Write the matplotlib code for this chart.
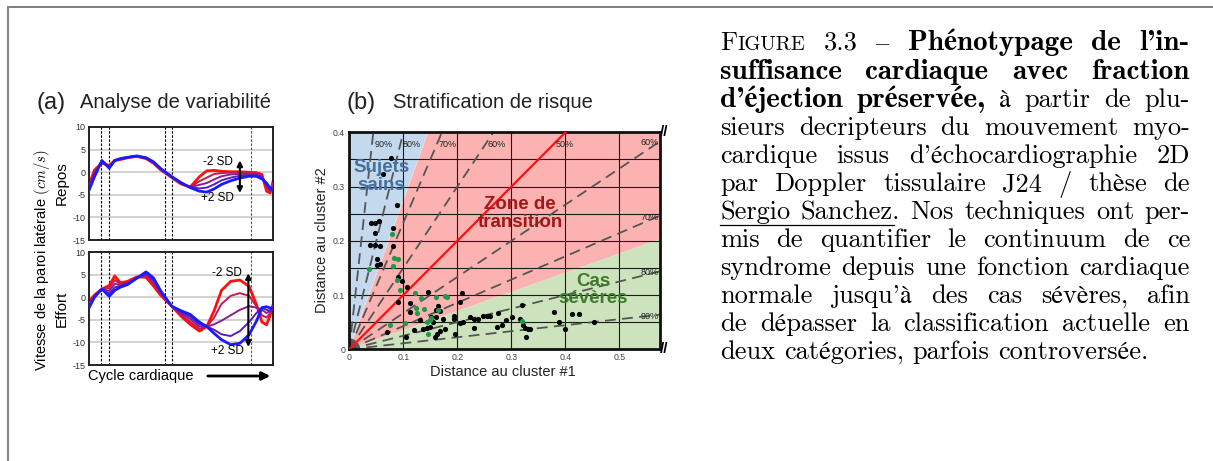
import numpy as np
import matplotlib.pyplot as plt
from matplotlib.lines import Line2D
from matplotlib.patches import FancyArrowPatch

plt.rcParams['font.family'] = ['Liberation Sans', 'DejaVu Sans']
plt.rcParams['mathtext.fontset'] = 'cm'

W, H = 1213, 461

# ---- (a) vitesse de la paroi laterale, 5 courbes de -2 SD (rouge) a +2 SD (bleu)
cycle = [0, 3, 7, 11, 14, 17, 21, 26, 31, 35, 39, 45, 50, 55, 60, 64, 68, 72, 77, 82, 87, 91, 94, 96.5, 98.5, 100]

repos = [
    [-2.8, 0.5, 2.0, 1.5, 2.6, 2.8, 3.2, 3.5, 3.0, 2.0, 0.5, -1.2, -2.6, -3.3, -1.0, 0.3, 0.4, 0.2, 0.1, 0.1, 0.0, -0.1, -0.5, -4.2, -4.6, -2.0],
    [-3.1, 0.1, 2.1, 1.3, 2.6, 2.9, 3.2, 3.5, 3.1, 2.1, 0.6, -1.1, -2.5, -3.3, -2.0, -1.2, -0.4, -0.2, -0.1, -0.1, -0.2, -0.3, -0.8, -3.5, -4.3, -2.5],
    [-3.4, -0.3, 2.3, 1.2, 2.6, 2.9, 3.3, 3.6, 3.1, 2.2, 0.7, -1.0, -2.4, -3.3, -2.8, -2.4, -1.6, -0.9, -0.5, -0.4, -0.4, -0.5, -1.0, -3.0, -4.0, -3.0],
    [-3.7, -0.6, 2.5, 1.0, 2.6, 3.0, 3.3, 3.6, 3.2, 2.3, 0.8, -1.0, -2.4, -3.3, -3.6, -3.4, -2.7, -1.8, -1.2, -0.8, -0.7, -0.7, -1.2, -2.7, -3.8, -3.5],
    [-4.0, -1.0, 2.6, 0.9, 2.6, 3.0, 3.3, 3.6, 3.2, 2.3, 0.8, -1.0, -2.3, -3.4, -4.2, -4.4, -3.7, -2.7, -1.9, -1.3, -0.9, -0.9, -1.5, -2.4, -3.6, -3.9],
]
effort = [
    [-1.0, 0.5, 1.8, 2.6, 4.7, 3.2, 3.5, 4.5, 4.4, 2.5, 0.4, -2.0, -4.2, -6.0, -7.5, -6.5, -3.0, 1.5, 3.5, 3.8, 2.4, -1.6, -5.5, -6.1, -4.0, -1.7],
    [-1.4, 0.4, 1.8, 2.0, 3.8, 2.9, 3.3, 4.4, 4.7, 3.0, 0.7, -2.0, -3.9, -5.4, -7.0, -6.5, -4.5, -1.5, 0.3, 0.9, 0.3, -2.0, -4.0, -4.5, -3.5, -2.0],
    [-1.7, 0.2, 1.8, 1.4, 3.0, 2.6, 3.1, 4.3, 5.0, 3.5, 1.0, -2.0, -3.6, -4.8, -6.5, -6.5, -6.0, -5.2, -4.0, -2.8, -2.0, -2.3, -2.8, -3.5, -3.0, -2.2],
    [-2.0, 0.1, 1.8, 0.8, 2.2, 2.4, 3.0, 4.2, 5.3, 3.9, 1.2, -2.0, -3.3, -4.3, -6.0, -6.5, -7.2, -8.2, -8.6, -7.5, -5.5, -3.5, -2.3, -2.8, -3.0, -2.3],
    [-2.4, 0.0, 1.8, 0.2, 1.5, 2.2, 2.8, 4.2, 5.6, 4.3, 1.4, -2.0, -3.0, -3.8, -5.5, -6.5, -8.0, -9.4, -10.5, -10.2, -8.3, -5.3, -2.3, -2.1, -2.4, -2.4],
]
couleurs = ['#ff1010', '#c81850', '#8c1f8c', '#5a1cc0', '#1a1aff']
evenements = [6.5, 10.9, 41.3, 45.1, 88]

# ---- (b) stratification de risque
noirs_x = [0.0765, 0.063, 0.089, 0.040, 0.048, 0.055, 0.048, 0.081, 0.038, 0.048, 0.056, 0.081,
           0.051, 0.057, 0.052, 0.091, 0.097, 0.106, 0.091, 0.112, 0.112, 0.146, 0.131, 0.119,
           0.143, 0.137, 0.149, 0.154, 0.151, 0.160, 0.160, 0.167, 0.164, 0.174, 0.159, 0.163,
           0.168, 0.177, 0.105, 0.070, 0.193, 0.194, 0.196, 0.205, 0.208, 0.205, 0.210, 0.223,
           0.230, 0.230, 0.239, 0.248, 0.254, 0.260, 0.273, 0.276, 0.282, 0.290, 0.302, 0.319,
           0.316, 0.321, 0.325, 0.330, 0.335, 0.327, 0.378, 0.389, 0.399, 0.412, 0.426, 0.452]
noirs_y = [0.353, 0.324, 0.266, 0.232, 0.232, 0.237, 0.215, 0.224, 0.192, 0.192, 0.190, 0.190,
           0.167, 0.158, 0.155, 0.134, 0.125, 0.114, 0.088, 0.086, 0.069, 0.106, 0.054, 0.036,
           0.039, 0.037, 0.042, 0.051, 0.059, 0.060, 0.072, 0.071, 0.079, 0.056, 0.023, 0.028,
           0.033, 0.037, 0.023, 0.031, 0.061, 0.055, 0.029, 0.087, 0.103, 0.049, 0.050, 0.060,
           0.055, 0.039, 0.055, 0.061, 0.061, 0.061, 0.042, 0.067, 0.045, 0.054, 0.059, 0.082,
           0.055, 0.045, 0.040, 0.037, 0.038, 0.022, 0.069, 0.051, 0.037, 0.065, 0.065, 0.051]
verts_x = [0.079, 0.037, 0.080, 0.083, 0.091, 0.089, 0.094, 0.122, 0.132, 0.160, 0.177, 0.180,
           0.123, 0.138, 0.126, 0.165, 0.152, 0.149, 0.143, 0.103, 0.075, 0.146, 0.319]
verts_y = [0.213, 0.148, 0.154, 0.168, 0.167, 0.128, 0.109, 0.103, 0.094, 0.096, 0.098, 0.096,
           0.077, 0.074, 0.066, 0.072, 0.057, 0.054, 0.051, 0.049, 0.045, 0.028, 0.053]
pourcentages = [90, 80, 70, 60]
pente_sains = 2.74
pente_severes = 0.353

legende = [
    "^Figure 3.3 – *Phénotypage *de *l'in-",
    "*suffisance *cardiaque *avec *fraction",
    "*d'éjection *préservée, à partir de plu-",
    "sieurs decripteurs du mouvement myo-",
    "cardique issus d'échocardiographie 2D",
    "par Doppler tissulaire J24 / thèse de",
    "_Sergio _Sanchez. Nos techniques ont per-",
    "mis de quantifier le continuum de ce",
    "syndrome depuis une fonction cardiaque",
    "normale jusqu'à des cas sévères, afin",
    "de dépasser la classification actuelle en",
    "deux catégories, parfois controversée.",
]


def fx(px):
    return px / W


def fy(py):
    return 1 - py / H


fig = plt.figure(figsize=(W / 100, H / 100), dpi=100)

# cadre de page
fig.add_artist(Line2D([fx(8), 1], [fy(7), fy(7)], color='#666666', lw=1.2))
fig.add_artist(Line2D([fx(8), fx(8)], [fy(7), 0], color='#888888', lw=1.5))

# ---------- panneau (a)
ax_r = fig.add_axes([fx(89), fy(240), fx(184), 113 / H])
ax_e = fig.add_axes([fx(89), fy(365), fx(184), 113 / H])
for ax, courbes, fleche in [(ax_r, repos, (82, 2.6, -4.6, 70, 2.3, -5.6)),
                            (ax_e, effort, (86.6, 5.3, -11.0, 75, 5.3, -11.9))]:
    ax.set_xlim(0, 100)
    ax.set_ylim(-15, 10)
    ax.set_yticks([10, 5, 0, -5, -10, -15])
    ax.set_yticklabels(['10', '5', '0', '-5', '-10', '-15'])
    ax.set_xticks([])
    ax.tick_params(axis='y', length=0, pad=2.5, labelsize=6.5, labelcolor='#333333')
    for v in [5, 0, -5, -10]:
        ax.axhline(v, color='#cfcfcf', lw=1.3, zorder=0)
    for i, ev in enumerate(evenements):
        c = 'black' if i < 4 else '#555555'
        ax.axvline(ev, color=c, lw=0.8, ls=(0, (2.2, 1.5)), zorder=1)
    for k, (y, c) in enumerate(zip(courbes, couleurs)):
        lw = 2.0 if k in (0, 4) else 1.4
        ax.plot(cycle, y, color=c, lw=lw, zorder=2 + k, solid_joinstyle='round')
    xa, y1, y2, xt, yt1, yt2 = fleche
    ax.annotate('', xy=(xa, y2), xytext=(xa, y1),
                arrowprops=dict(arrowstyle='<|-|>', color='black', lw=1.5, mutation_scale=8,
                                shrinkA=0, shrinkB=0), zorder=10)
    ax.text(xt, yt1, '-2 SD', fontsize=8.5, ha='center', va='center', zorder=10)
    ax.text(xt, yt2, '+2 SD', fontsize=8.5, ha='center', va='center', zorder=10)
    for s in ax.spines.values():
        s.set_linewidth(1.4)
        s.set_color('#222222')

fig.text(fx(62), fy(183.5), 'Repos', rotation=90, fontsize=11, ha='center', va='center')
fig.text(fx(62), fy(308.5), 'Effort', rotation=90, fontsize=11, ha='center', va='center')
fig.text(fx(42), fy(260), r'Vitesse de la paroi latérale $(cm/s)$', rotation=90,
         fontsize=10.5, ha='center', va='center')
fig.text(fx(88), fy(376), 'Cycle cardiaque', fontsize=10.5, ha='left', va='center')
fig.add_artist(FancyArrowPatch((fx(205), fy(376)), (fx(273), fy(376)), transform=fig.transFigure,
                               arrowstyle='-|>', mutation_scale=12, lw=2, color='black'))
fig.text(fx(37), fy(103), '(a)', fontsize=17, ha='left', va='center', color='#222222')
fig.text(fx(80), fy(103), 'Analyse de variabilité', fontsize=14.5, ha='left', va='center',
         color='#222222')

# ---------- panneau (b)
xmax, ymax = 0.575, 0.4
ax_b = fig.add_axes([fx(349.3), fy(349.3), fx(310.7), 217 / H])
ax_b.set_xlim(0, xmax)
ax_b.set_ylim(0, ymax)
ax_b.fill([0, 0, ymax / pente_sains], [0, ymax, ymax], color='#c4d9ee', lw=0, zorder=0)
ax_b.fill([0, ymax / pente_sains, xmax, xmax], [0, ymax, ymax, xmax * pente_severes],
          color='#fdb2b2', lw=0, zorder=0)
ax_b.fill([0, xmax, xmax], [0, xmax * pente_severes, 0], color='#cce3bd', lw=0, zorder=0)
ax_b.set_xticks(np.arange(0, 0.51, 0.1))
ax_b.set_xticklabels(['0', '0.1', '0.2', '0.3', '0.4', '0.5'])
ax_b.set_yticks(np.arange(0, 0.41, 0.1))
ax_b.set_yticklabels(['0', '0.1', '0.2', '0.3', '0.4'])
ax_b.set_yticks(np.arange(0.05, 0.4, 0.1), minor=True)
ax_b.tick_params(which='both', length=0, labelsize=6.3, labelcolor='#444444', pad=3)
ax_b.set_axisbelow(True)
ax_b.grid(True, which='major', color='#1a1a1a', lw=0.8)
ax_b.grid(True, which='minor', axis='y', color='#1a1a1a', lw=0.8)
for p in pourcentages:
    pente = p / (100 - p)
    xe = min(xmax, ymax / pente)
    ax_b.plot([0, xe], [0, xe * pente], color='#555555', lw=1.3, ls=(0, (6, 3.5)), zorder=2)
    ax_b.text(0.378 / pente + 0.004, 0.378, f'{p}%', fontsize=6.5, ha='left', va='center',
              color='#222222', zorder=5)
    pente2 = (100 - p) / p
    ax_b.plot([0, xmax], [0, xmax * pente2], color='#555555', lw=1.3, ls=(0, (6, 3.5)), zorder=2)
    ax_b.text(0.572, xmax * pente2 - 0.003, f'{p}%', fontsize=6.5, ha='right', va='center',
              color='#222222', zorder=5)
ax_b.plot([0, ymax], [0, ymax], color='#ff1010', lw=1.6, zorder=3)
ax_b.text(0.378 + 0.004, 0.378, '50%', fontsize=6.5, ha='left', va='center', color='#222222', zorder=5)
ax_b.scatter(noirs_x, noirs_y, s=14, color='black', lw=0, zorder=4)
ax_b.scatter(verts_x, verts_y, s=14, color='#1f9a4a', lw=0, zorder=4)
ax_b.text(0.060, 0.318, 'Sujets\nsains', fontsize=13.5, fontweight='bold', color='#46709e',
          ha='center', va='center', linespacing=1.05, zorder=5)
ax_b.text(0.316, 0.250, 'Zone de\ntransition', fontsize=13.5, fontweight='bold', color='#a01818',
          ha='center', va='center', linespacing=1.05, zorder=5)
ax_b.text(0.452, 0.109, 'Cas\nsévères', fontsize=13.5, fontweight='bold', color='#3f7a2c',
          ha='center', va='center', linespacing=1.05, zorder=5)
for s in ax_b.spines.values():
    s.set_linewidth(2)
    s.set_color('#111111')
ax_b.text(1.0, 1.0, '//', transform=ax_b.transAxes, fontsize=11, fontweight='bold',
          ha='left', va='center', clip_on=False)
ax_b.text(1.0, 0.0, '//', transform=ax_b.transAxes, fontsize=11, fontweight='bold',
          ha='left', va='center', clip_on=False)
fig.text(fx(503), fy(372), 'Distance au cluster #1', fontsize=10.5, ha='center', va='center',
         color='#222222')
fig.text(fx(322), fy(240), 'Distance au cluster #2', fontsize=10.5, rotation=90, ha='center',
         va='center', color='#222222')
fig.text(fx(346), fy(103), '(b)', fontsize=17, ha='left', va='center', color='#222222')
fig.text(fx(393), fy(103), 'Stratification de risque', fontsize=14.5, ha='left', va='center',
         color='#222222')

# ---------- legende justifiee
fs = 19
serif = ['cmr10', 'STIXGeneral']
serif_b = ['cmb10', 'STIXGeneral']
fs_b = 21
x_g, x_d = 720, 1190
lignes_base = [50, 79, 107, 135, 163, 191, 219, 247, 275, 303, 331, 359]
rend = fig.canvas.get_renderer()
for i, ligne in enumerate(legende):
    mots = []
    for w in ligne.split(' '):
        morceaux = []
        souligne = False
        if w.startswith('*'):
            morceaux.append((w[1:], serif_b, fs_b, 'bold'))
        elif w.startswith('^'):
            morceaux.append((w[1], serif, fs, 'normal'))
            morceaux.append((w[2:].upper(), serif, fs * 0.78, 'normal'))
        elif w.startswith('_'):
            morceaux.append((w[1:], serif, fs, 'normal'))
            souligne = True
        else:
            morceaux.append((w, serif, fs, 'normal'))
        arts = []
        larg = 0
        for txt, fam, taille, poids in morceaux:
            t = fig.text(0, fy(lignes_base[i]), txt, family=fam, fontsize=taille,
                         fontweight=poids, va='baseline')
            wpx = t.get_window_extent(rend).width
            arts.append((t, wpx))
            larg += wpx
        mots.append((arts, larg, souligne))
    total = sum(m[1] for m in mots)
    if i < len(legende) - 1:
        ecart = (x_d - x_g - total) / (len(mots) - 1)
    else:
        ecart = fs * 100 / 72 * 0.33
    x = x_g
    deb_soul = None
    for arts, larg, souligne in mots:
        if souligne and deb_soul is None:
            deb_soul = x
        for t, wpx in arts:
            t.set_x(fx(x))
            x += wpx
        if souligne:
            fin_soul = x
        x += ecart
    if deb_soul is not None:
        fig.add_artist(Line2D([fx(deb_soul), fx(fin_soul - 6)], [fy(lignes_base[i] + 6)] * 2,
                              color='black', lw=0.9))

fig.savefig('out.png', dpi=100)
